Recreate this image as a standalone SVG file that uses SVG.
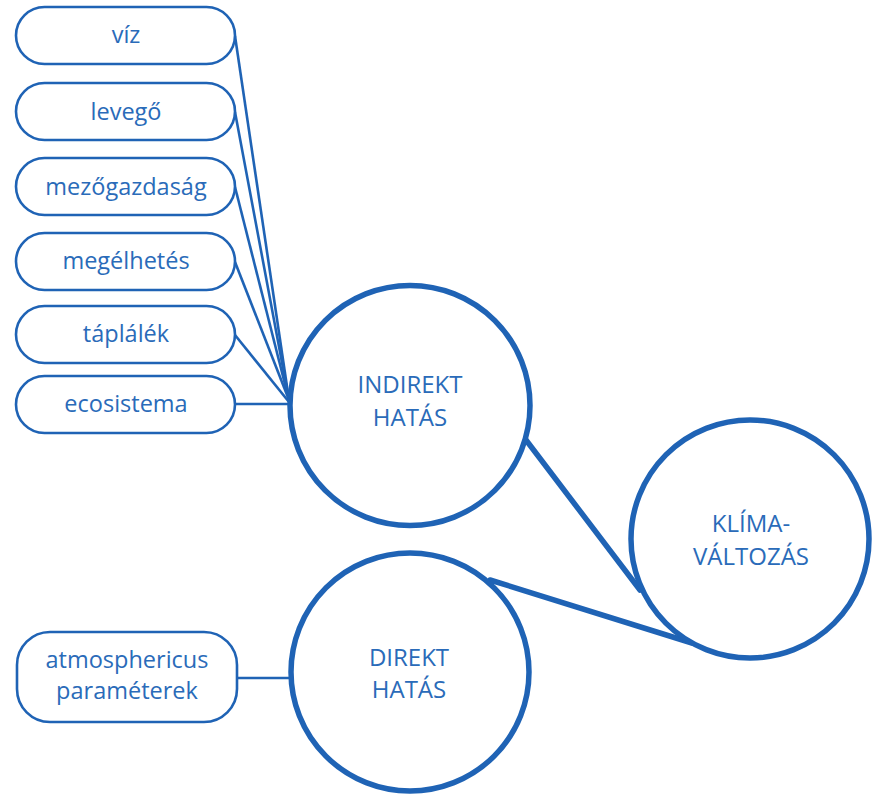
<svg xmlns="http://www.w3.org/2000/svg" width="876" height="797" viewBox="0 0 876 797">
<style>
.pill{fill:#fff;stroke:#1f63b5;stroke-width:2.6}
.big{fill:#fff;stroke:#1f63b5;stroke-width:5.5}
.thin{stroke:#1f63b5;stroke-width:2.6;fill:none}
.thick{stroke:#1f63b5;stroke-width:5.5;fill:none;stroke-linecap:round}
text{font-family:"Open Sans","Noto Sans","Liberation Sans",sans-serif;fill:#2a6bb9;text-anchor:middle}
.s{font-size:23.5px}
.c{font-size:24px}
</style>
<rect width="876" height="797" fill="#fff"/>
<g id="connectors">
<line class="thin" x1="235" y1="36" x2="289" y2="400"/>
<line class="thin" x1="235" y1="112" x2="289" y2="400"/>
<line class="thin" x1="235" y1="187" x2="289" y2="400"/>
<line class="thin" x1="235" y1="262" x2="289" y2="400"/>
<line class="thin" x1="235" y1="335" x2="289" y2="402"/>
<line class="thin" x1="235" y1="404" x2="290" y2="404"/>
<line class="thin" x1="237" y1="678" x2="291" y2="678"/>
<line class="thick" x1="526" y1="440" x2="640" y2="590"/>
<line class="thick" x1="490" y1="580" x2="692" y2="643"/>
</g>
<g id="viz"><rect class="pill" x="16" y="7" width="219" height="57" rx="28.5"/><text class="s" x="126" y="43">víz</text></g>
<g id="levego"><rect class="pill" x="16" y="83" width="219" height="57" rx="28.5"/><text class="s" x="126" y="120">levegő</text></g>
<g id="mezogazdasag"><rect class="pill" x="16" y="158" width="219" height="57" rx="28.5"/><text class="s" x="126" y="195">mezőgazdaság</text></g>
<g id="megelhetes"><rect class="pill" x="16" y="233" width="219" height="57" rx="28.5"/><text class="s" x="126" y="269">megélhetés</text></g>
<g id="taplalek"><rect class="pill" x="16" y="306" width="219" height="57" rx="28.5"/><text class="s" x="126" y="342">táplálék</text></g>
<g id="ecosistema"><rect class="pill" x="16" y="376" width="219" height="57" rx="28.5"/><text class="s" x="126" y="412">ecosistema</text></g>
<g id="atmosphericus"><rect class="pill" x="17" y="632" width="220" height="90" rx="33"/><text class="s" x="127" y="668">atmosphericus</text><text class="s" x="127" y="699">paraméterek</text></g>
<g id="indirekt"><circle class="big" cx="410" cy="405.5" r="120"/><text class="c" x="410" y="393">INDIREKT</text><text class="c" x="410" y="426">HATÁS</text></g>
<g id="klima"><circle class="big" cx="750" cy="539" r="119"/><text class="c" x="751" y="532">KLÍMA-</text><text class="c" x="751" y="565">VÁLTOZÁS</text></g>
<g id="direkt"><circle class="big" cx="410" cy="672" r="119"/><text class="c" x="409" y="666">DIREKT</text><text class="c" x="409" y="698">HATÁS</text></g>
</svg>
